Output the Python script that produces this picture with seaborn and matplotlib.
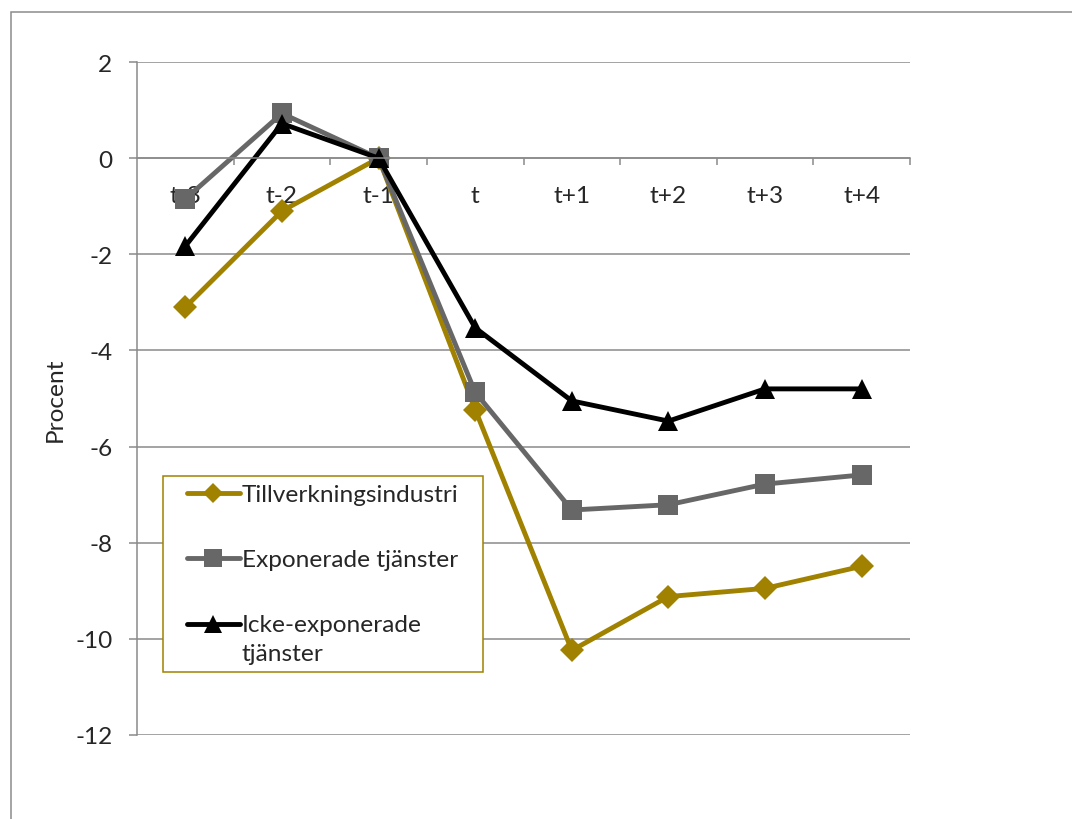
import matplotlib
matplotlib.use("Agg")
import matplotlib.pyplot as plt
from matplotlib.patches import Rectangle
from matplotlib.legend_handler import HandlerLine2D
from matplotlib.ticker import FixedLocator
import numpy as np
import seaborn as sns
import pandas as pd

# Periods around the event
periods = ["t-3", "t-2", "t-1", "t", "t+1", "t+2", "t+3", "t+4"]

# Change relative to t-1, percent
tillverkning = [-3.1, -1.1, 0.0, -5.23, -10.24, -9.12, -8.95, -8.49]
exponerade = [-0.85, 0.93, 0.0, -4.87, -7.32, -7.21, -6.78, -6.59]
icke_exponerade = [-1.83, 0.72, 0.0, -3.53, -5.05, -5.47, -4.80, -4.80]

series_names = ["Tillverkningsindustri", "Exponerade tjänster",
                "Icke-exponerade\ntjänster"]
series_values = [tillverkning, exponerade, icke_exponerade]
series_colors = ["#A08200", "#676767", "#000000"]
series_markers = ["D", "s", "^"]
series_msizes = [12.5, 14.5, 14.5]

y_ticks = list(range(-12, 3, 2))

sns.set_style("white")
plt.rcParams["font.family"] = ["Lato", "DejaVu Sans"]
plt.rcParams["axes.unicode_minus"] = False

GRID = "#8a8a8a"
FS = 17.6

fig = plt.figure(figsize=(10.72, 8.2), dpi=100)
ax = fig.add_axes([137 / 1072, 1 - 736 / 820, (910 - 137) / 1072, (736 - 63) / 820])

# Outer chart frame
fig.patches.append(Rectangle((11 / 1072, -0.2), 1.2, 1.2 - 13 / 820,
                             transform=fig.transFigure, fill=False,
                             edgecolor="#8c8c8c", linewidth=1.1, zorder=0))

handles = []
for name, vals, col, mk, ms in zip(series_names, series_values, series_colors,
                                   series_markers, series_msizes):
    df = pd.DataFrame({"period": periods, "value": vals})
    sns.lineplot(data=df, x="period", y="value", ax=ax, sort=False,
                 color=col, linewidth=3.5, marker=mk, markersize=ms,
                 markeredgecolor=col, markerfacecolor=col, markeredgewidth=0,
                 label=name, legend=False)
    handles.append(ax.get_lines()[-1])

ax.set_xlim(-0.5, 7.5)
ax.set_ylim(-12, 2)
ax.set_yticks(y_ticks)
ax.set_xlabel("")
ax.set_ylabel("Procent", fontsize=FS, labelpad=7)

ax.grid(axis="y", color=GRID, linewidth=1.1)
ax.grid(axis="x", visible=False)
ax.set_axisbelow(True)

for side in ["top", "right"]:
    ax.spines[side].set_visible(False)
ax.spines["left"].set_color(GRID)
ax.spines["left"].set_linewidth(1.1)
ax.spines["bottom"].set_position(("data", 0))
ax.spines["bottom"].set_color(GRID)
ax.spines["bottom"].set_linewidth(1.1)

ax.tick_params(axis="y", which="major", length=5.8, width=1.1, color=GRID,
               labelsize=FS, pad=12, direction="out", left=True)
ax.tick_params(axis="x", which="major", length=0, labelsize=FS, pad=19,
               bottom=True)
ax.xaxis.set_minor_locator(FixedLocator([i + 0.5 for i in range(len(periods))]))
ax.tick_params(axis="x", which="minor", length=5, width=1.1, color=GRID,
               direction="out", bottom=True)

# Legend box spans a fixed width inside the plot area
leg_x = (163 - 137) / (910 - 137)
leg_y = (736 - 477) / (736 - 63)
leg_w = (483 - 163) / (910 - 137)
leg = ax.legend(handles=handles, labels=series_names, loc="upper left",
                bbox_to_anchor=(leg_x, leg_y - 0.3, leg_w, 0.3), mode="expand",
                borderaxespad=0, fontsize=FS, frameon=True, fancybox=False,
                framealpha=1, edgecolor=series_colors[0], borderpad=0.33,
                labelspacing=1.8, handlelength=2.8, handletextpad=0.1,
                handler_map={h: HandlerLine2D(xpad=0.65) for h in handles})
leg.get_frame().set_linewidth(1.1)
for txt in leg.get_texts():
    txt.set_linespacing(1.45)
for line in leg.get_lines():
    line.set_markersize(line.get_markersize() * 0.85)
    line.set_solid_capstyle("round")

# Keep the wrapped entry's key level with its first text line
fig.canvas.draw()
last = leg.get_lines()[-1]
last.set_ydata(np.asarray(last.get_ydata()) + 0.6 * FS)

fig.savefig("out.png", dpi=100)
